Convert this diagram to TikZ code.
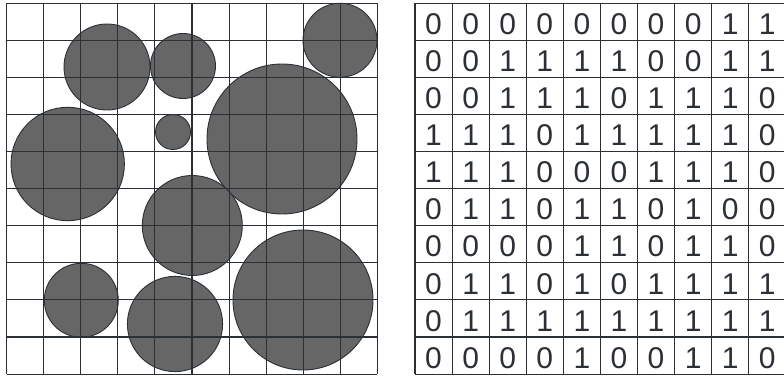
\documentclass[tikz,border=0pt]{standalone}
\usepackage{fontspec}
\setmainfont{Liberation Sans}
\definecolor{gridline}{HTML}{2B2F36}
\definecolor{disc}{HTML}{666666}
\tikzset{
  gridlines/.style={draw=gridline, line width=1.1pt},
  discshape/.style={fill=disc, draw=gridline, line width=0.9pt},
  digit/.style={inner sep=0pt, font=\fontsize{30}{30}\selectfont, text=gridline}
}
\begin{document}
\begin{tikzpicture}[x=1pt,y=-1pt]
\clip (0,0) rectangle (784,379);
\fill[white] (0,0) rectangle (784,379);
% discs
\path[discshape] (107,67) circle (43);
\path[discshape] (183,66) circle (32.5);
\path[discshape] (340,40.3) circle (37);
\path[discshape] (173,132) circle (17.5);
\path[discshape] (282,139) circle (75);
\path[discshape] (67.7,164) circle (56.7);
\path[discshape] (192.3,225.5) circle (50);
\path[discshape] (81.3,300.3) circle (37);
\path[discshape] (175,324) circle (47.6);
\path[discshape] (303,300) circle (70);
% left grid
\def\cs{37.08}
\foreach \i in {0,...,10}{
  \draw[gridlines] ({6.6+\i*\cs},3.3) -- ({6.6+\i*\cs},{3.3+10*\cs});
  \draw[gridlines] (6.6,{3.3+\i*\cs}) -- ({6.6+10*\cs},{3.3+\i*\cs});
}
% right grid
\foreach \i in {0,...,10}{
  \draw[gridlines] ({415+\i*\cs},3.3) -- ({415+\i*\cs},{3.3+10*\cs});
  \draw[gridlines] (415,{3.3+\i*\cs}) -- ({415+10*\cs},{3.3+\i*\cs});
}
% digits
\foreach \row [count=\r from 0] in {
  {0,0,0,0,0,0,0,0,1,1},
  {0,0,1,1,1,1,0,0,1,1},
  {0,0,1,1,1,0,1,1,1,0},
  {1,1,1,0,1,1,1,1,1,0},
  {1,1,1,0,0,0,1,1,1,0},
  {0,1,1,0,1,1,0,1,0,0},
  {0,0,0,0,1,1,0,1,1,0},
  {0,1,1,0,1,0,1,1,1,1},
  {0,1,1,1,1,1,1,1,1,1},
  {0,0,0,0,1,0,0,1,1,0}}{
  \foreach \v [count=\c from 0] in \row {
    \node[digit] (d-\r-\c) at ({415+(\c+0.5)*\cs},{3.3+(\r+0.5)*\cs+2.3}) {\v};
  }
}
\end{tikzpicture}
\end{document}
